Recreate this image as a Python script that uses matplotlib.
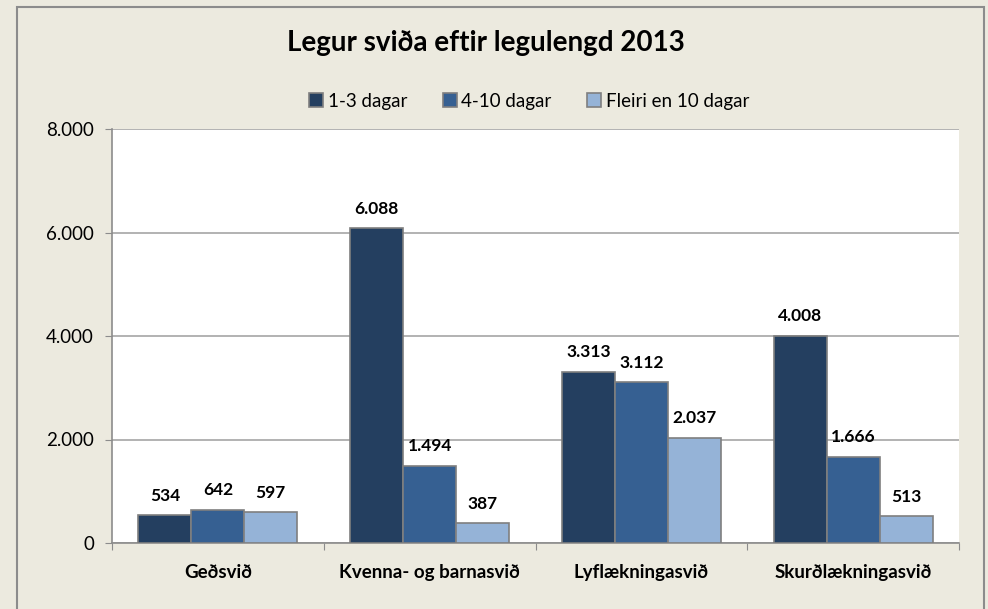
import matplotlib.pyplot as plt
import numpy as np
from matplotlib.patches import Rectangle

plt.rcParams['font.family'] = ['Lato', 'DejaVu Sans']

# Data
categories = ['Geðsvið', 'Kvenna- og barnasvið', 'Lyflækningasvið', 'Skurðlækningasvið']
series_names = ['1-3 dagar', '4-10 dagar', 'Fleiri en 10 dagar']
days_1_3 = [534, 6088, 3313, 4008]
days_4_10 = [642, 1494, 3112, 1666]
days_10_plus = [597, 387, 2037, 513]
yticks = [0, 2000, 4000, 6000, 8000]

colors = ['#243F60', '#366092', '#95B3D7']
bg = '#ECEADF'


def fmt(v):
    return f'{v:,}'.replace(',', '.')


fig = plt.figure(figsize=(9.88, 6.09), dpi=100, facecolor=bg)
fig.patches.append(Rectangle((17 / 988, -0.05), 967 / 988, 1 - 7 / 609 + 0.05,
                             transform=fig.transFigure, fill=False,
                             edgecolor='#8C8C8C', linewidth=1.5))
ax = fig.add_axes([112 / 988, 1 - 543 / 609, 847 / 988, (543 - 129) / 609])
ax.set_facecolor('white')

x = np.arange(len(categories))
width = 0.25
all_series = [days_1_3, days_4_10, days_10_plus]
for i, (vals, name) in enumerate(zip(all_series, series_names)):
    bars = ax.bar(x + (i - 1) * width, vals, width, color=colors[i],
                  edgecolor='#7F7F7F', linewidth=1.2, label=name, zorder=3)
    for b, v in zip(bars, vals):
        ax.text(b.get_x() + b.get_width() / 2, v + 220, fmt(v),
                ha='center', va='bottom', fontsize=12.5, fontweight='bold')

ax.set_xlim(-0.5, len(categories) - 0.5)
ax.set_ylim(0, 8000)
ax.set_yticks(yticks)
ax.set_yticklabels([fmt(t) for t in yticks], fontsize=13.5)
ax.yaxis.grid(True, color='#A6A6A6', linewidth=1.2, zorder=0)
ax.set_xticks(np.arange(len(categories) + 1) - 0.5)
ax.set_xticklabels([])
ax.set_xticks(x, minor=True)
ax.set_xticklabels(categories, minor=True, fontsize=13.5, fontweight='bold')
ax.tick_params(axis='x', which='minor', length=0, pad=15)
ax.tick_params(axis='x', which='major', length=5, color='#8C8C8C')
ax.tick_params(axis='y', length=5, color='#8C8C8C', pad=8)
for s in ['top', 'right']:
    ax.spines[s].set_visible(False)
for s in ['left', 'bottom']:
    ax.spines[s].set_color('#8C8C8C')
    ax.spines[s].set_linewidth(1.2)

fig.text(0.492, 1 - 43 / 609, 'Legur sviða eftir legulengd 2013',
         ha='center', va='center', fontsize=20, fontweight='bold')
fig.legend(loc='center', bbox_to_anchor=(529 / 988, 1 - 101 / 609), ncol=3,
           frameon=False, fontsize=13.5, handlelength=0.75, handleheight=0.75,
           handletextpad=0.25, columnspacing=1.9)

fig.savefig('out.png', dpi=100, facecolor=bg)
